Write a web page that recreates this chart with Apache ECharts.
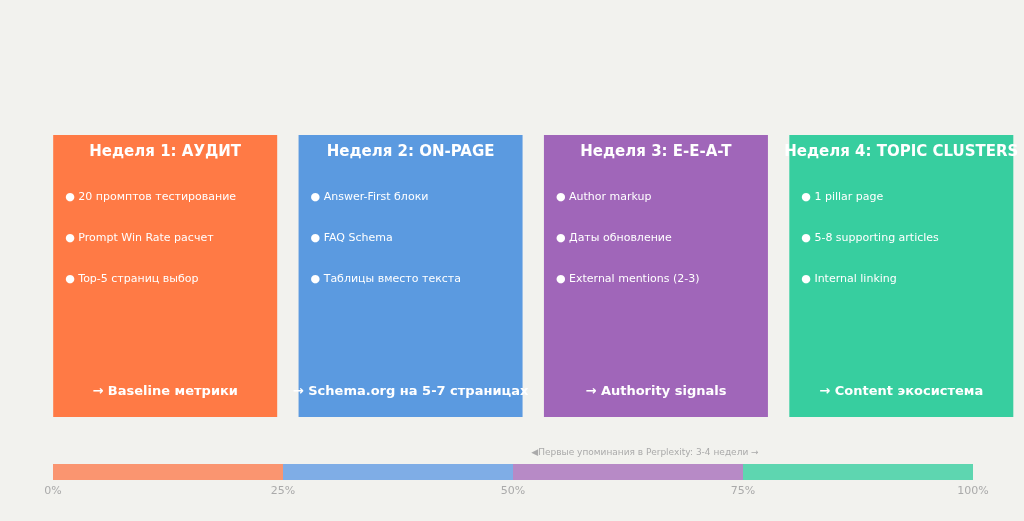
<!DOCTYPE html>
<html>
<head>
<meta charset="utf-8">
<script src="https://cdn.jsdelivr.net/npm/echarts@6/dist/echarts.min.js"></script>
<style>html,body{margin:0;background:#f2f2ee}#main{width:1024px;height:521px}</style>
</head>
<body>
<div id="main"></div>
<script>
var weeks = ['Неделя 1: АУДИТ', 'Неделя 2: ON-PAGE', 'Неделя 3: E-E-A-T', 'Неделя 4: TOPIC CLUSTERS'];
var tasks = [
  ['20 промптов тестирование', 'Prompt Win Rate расчет', 'Top-5 страниц выбор'],
  ['Answer-First блоки', 'FAQ Schema', 'Таблицы вместо текста'],
  ['Author markup', 'Даты обновление', 'External mentions (2-3)'],
  ['1 pillar page', '5-8 supporting articles', 'Internal linking']
];
var results = ['→ Baseline метрики', '→ Schema.org на 5-7 страницах', '→ Authority signals', '→ Content экосистема'];
var cardColors = ['#ff7a45', '#5b9ae0', '#a066b9', '#37ce9f'];
var barColors = ['#fa9570', '#7fade6', '#b78ac6', '#5ed6b0'];
var shares = [25, 25, 25, 25];
var ticks = ['0%', '25%', '50%', '75%', '100%'];

var font = 'DejaVu Sans';
var rich = {
  t: {fontSize: 15, fontWeight: 'bold', color: '#fff', lineHeight: 34, align: 'center', fontFamily: font},
  g: {lineHeight: 8, fontSize: 8},
  b: {fontSize: 11, color: '#fff', lineHeight: 41, align: 'left', padding: [0, 0, 0, 12], fontFamily: font},
  s: {lineHeight: 71, fontSize: 8},
  f: {fontSize: 13, fontWeight: 'bold', color: '#fff', lineHeight: 42, align: 'center', fontFamily: font}
};

var option = {
  backgroundColor: '#f2f2ee',
  animation: false,
  title: {
    text: '◀Первые упоминания в Perplexity: 3-4 недели →',
    left: 640, top: 443, textAlign: 'center',
    textStyle: {fontSize: 9, color: '#aaa', fontWeight: 'normal', fontFamily: font}
  },
  grid: [
    {left: 42.5, right: 0, top: 135, bottom: 104},
    {left: 53, right: 51, top: 464, height: 16}
  ],
  xAxis: [
    {type: 'category', data: weeks, gridIndex: 0, show: false},
    {type: 'value', gridIndex: 1, min: 0, max: 100, interval: 25,
     axisLine: {show: false}, axisTick: {show: false}, splitLine: {show: false},
     axisLabel: {color: '#aaa', fontSize: 11, fontFamily: font, margin: 6,
       formatter: function (v) { return ticks[v / 25]; }}}
  ],
  yAxis: [
    {type: 'value', gridIndex: 0, min: 0, max: 1, show: false},
    {type: 'category', gridIndex: 1, data: ['t'], show: false}
  ],
  series: [{
    type: 'bar', xAxisIndex: 0, yAxisIndex: 0, barWidth: 224,
    data: weeks.map(function (w, i) {
      return {value: 1, itemStyle: {color: cardColors[i]}};
    }),
    label: {
      show: true, position: 'insideTop', distance: 0, width: 224,
      formatter: function (p) {
        var i = p.dataIndex;
        return ['{t|' + weeks[i] + '}', '{g| }']
          .concat(tasks[i].map(function (t) { return '{b|● ' + t + '}'; }))
          .concat(['{s| }', '{f|' + results[i] + '}']).join('\n');
      },
      rich: rich
    }
  }].concat(shares.map(function (v, i) {
    return {type: 'bar', stack: 'tl', xAxisIndex: 1, yAxisIndex: 1, barWidth: 16,
      data: [v], itemStyle: {color: barColors[i]}};
  }))
};
echarts.init(document.getElementById('main')).setOption(option);
</script>
</body>
</html>
